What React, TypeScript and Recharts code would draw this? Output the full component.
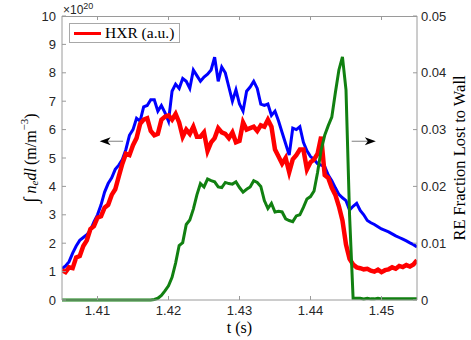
import { LineChart, Line, XAxis, YAxis, Legend, ReferenceLine, Label } from "recharts";

// time base (s)
const times = [
  1.405, 1.4055, 1.406, 1.4065, 1.407, 1.4075, 1.408, 1.4085, 1.409, 1.4095,
  1.41, 1.4105, 1.411, 1.4115, 1.412, 1.4125, 1.413, 1.4135, 1.414, 1.4145,
  1.415, 1.4155, 1.416, 1.4165, 1.417, 1.4175, 1.418, 1.4185, 1.419, 1.4195,
  1.42, 1.4205, 1.421, 1.4215, 1.422, 1.4225, 1.423, 1.4235, 1.424, 1.4245,
  1.425, 1.4255, 1.426, 1.4265, 1.427, 1.4275, 1.428, 1.4285, 1.429, 1.4295,
  1.43, 1.4305, 1.431, 1.4315, 1.432, 1.4325, 1.433, 1.4335, 1.434, 1.4345,
  1.435, 1.4355, 1.436, 1.4365, 1.437, 1.4375, 1.438, 1.4385, 1.439, 1.4395,
  1.44, 1.4405, 1.441, 1.4415, 1.442, 1.4425, 1.443, 1.4435, 1.444, 1.4445,
  1.445, 1.4455, 1.446, 1.4465, 1.447, 1.4475, 1.448, 1.4485, 1.449, 1.4495,
  1.45, 1.4505, 1.451, 1.4515, 1.452, 1.4525, 1.453, 1.4535, 1.454, 1.4545,
  1.455,
];

// line-integrated density, x1e20
const density = [
  1.1, 1.2, 1.35, 1.65, 1.9, 2.1, 2.2, 2.3, 2.45, 2.75,
  3.0, 3.35, 3.8, 4.1, 4.3, 4.6, 4.75, 4.95, 5.3, 5.8,
  6.0, 6.4, 6.3, 6.8, 6.85, 7.05, 7.05, 6.65, 6.85, 6.6,
  6.3, 7.35, 7.6, 7.45, 7.8, 7.7, 7.45, 8.1, 7.9, 7.7,
  7.85, 7.95, 8.1, 8.55, 7.7, 8.2, 8.0, 7.5, 7.0, 7.4,
  6.9, 6.65, 7.35, 7.5, 7.7, 7.45, 6.9, 6.85, 6.9, 6.5,
  6.65, 6.3, 5.9, 5.5, 5.1, 6.05, 6.0, 6.1, 5.55, 5.25,
  5.05, 4.95, 4.8, 4.75, 4.7, 4.4, 4.2, 3.95, 3.72, 3.6,
  3.5, 3.17, 3.3, 3.4, 3.15, 3.0, 2.8, 2.72, 2.66, 2.58,
  2.5, 2.45, 2.4, 2.33, 2.26, 2.2, 2.14, 2.08, 2.01, 1.95,
  1.87,
];

// hard x-ray signal (a.u.), on the density scale
const hxr = [
  1.05, 0.98, 1.15, 1.12, 1.5, 1.55, 1.9, 2.1, 2.5, 2.6,
  2.9, 2.95, 3.25, 3.35, 3.7, 3.9, 4.35, 4.8, 5.15, 5.1,
  5.45, 5.7, 6.2, 6.35, 6.4, 5.95, 5.8, 5.85, 6.35, 6.45,
  6.5, 6.35, 6.55, 6.25, 5.75, 6.0, 5.85, 6.1, 5.75, 5.75,
  5.9, 5.25, 5.55, 5.7, 6.05, 5.9, 5.85, 5.7, 5.9, 5.55,
  5.6, 6.25, 6.0, 6.05, 6.1, 5.95, 6.15, 6.1, 6.35, 6.1,
  5.3, 5.05, 4.8, 5.0, 4.5, 4.95, 5.1, 5.3, 5.3, 4.6,
  4.85, 4.95, 5.15, 5.75, 4.4, 4.3, 3.95, 3.7, 3.3, 2.8,
  1.95, 1.45, 1.25, 1.15, 1.12, 1.08, 1.1, 1.03, 1.0, 1.07,
  0.98, 1.05, 1.08, 1.15, 1.1, 1.2, 1.16, 1.23, 1.18, 1.25,
  1.4,
];

// RE fraction lost to wall (right axis)
const reFraction = [
  0, 0, 0, 0, 0, 0, 0, 0, 0, 0,
  0, 0, 0, 0, 0, 0, 0, 0, 0, 0,
  0, 0, 0, 0, 0, 0, 0.0001, 0.0003, 0.0008, 0.0016,
  0.0025, 0.004, 0.0065, 0.0096, 0.0101, 0.0133, 0.0141, 0.016, 0.0185, 0.0205,
  0.0199, 0.0213, 0.021, 0.0208, 0.0199, 0.0198, 0.0207, 0.0205, 0.0204, 0.0208,
  0.0198, 0.019, 0.0195, 0.0199, 0.021, 0.0207, 0.02, 0.0175, 0.0161, 0.017,
  0.0155, 0.0156, 0.0155, 0.0143, 0.014, 0.0138, 0.0148, 0.015, 0.0163, 0.0178,
  0.0182, 0.0192, 0.0225, 0.0264, 0.029, 0.0307, 0.0322, 0.0365, 0.0405, 0.0428,
  0.037, 0.015, 0.0003, 0.0003, 0.0003, 0.0002, 0.0003, 0.0002, 0.0002, 0.0003,
  0.0002, 0.0002, 0.0002, 0.0002, 0.0002, 0.0002, 0.0002, 0.0002, 0.0002, 0.0002,
  0.0002,
];

const timeDomain = [1.405, 1.455];
const timeTicks = [1.41, 1.42, 1.43, 1.44, 1.45];
const densityTicks = [0, 1, 2, 3, 4, 5, 6, 7, 8, 9, 10];
const fractionTicks = [0, 0.01, 0.02, 0.03, 0.04, 0.05];

const data = times.map((t, i) => ({
  t,
  density: density[i],
  hxr: hxr[i],
  re: reFraction[i],
}));

const W = 471;
const H = 340;
const TOP = 16;
const LEFT_W = 62;
const RIGHT_W = 54;
const AXIS = "#9a9a9a";
const TEXT = "#262626";
const SANS = "'Liberation Sans', Arial, sans-serif";
const SERIF = "'Liberation Serif', 'DejaVu Serif', serif";
const tickStyle = { fontSize: 13, fill: TEXT, fontFamily: SANS };

const Arrow = (props: any) => {
  const { x1, y1, x2, y2 } = props;
  const d = x2 > x1 ? 1 : -1;
  return (
    <g>
      <line x1={x1} y1={y1} x2={x2 - d * 6} y2={y2} stroke="#808080" strokeWidth={1} />
      <path
        d={`M${x2},${y2} L${x2 - d * 11},${y2 - 4} L${x2 - d * 8},${y2} L${x2 - d * 11},${y2 + 4} Z`}
        fill="#000"
      />
    </g>
  );
};

const DensityLabel = (props: any) => {
  const { x, y, width, height } = props.viewBox;
  const cx = x + 30;
  const cy = y + height / 2;
  return (
    <g>
      <text
        x={cx}
        y={cy}
        transform={`rotate(-90 ${cx} ${cy})`}
        textAnchor="middle"
        dominantBaseline="central"
        fontFamily={SERIF}
        fontSize={16}
        fill="#000"
      >
        <tspan fontSize={19}>∫</tspan>
        <tspan dx={4} fontStyle="italic">n</tspan>
        <tspan dy={4} fontSize={11} fontStyle="italic">e</tspan>
        <tspan dy={-4} fontStyle="italic">dl</tspan>
        <tspan dx={3}>(m/m</tspan>
        <tspan dy={-6} fontSize={11}>−3</tspan>
        <tspan dy={6}>)</tspan>
      </text>
      <text x={x + width + 1} y={y - 2} fontFamily={SANS} fontSize={12} fill={TEXT}>
        ×10
        <tspan dy={-5} fontSize={9}>20</tspan>
      </text>
    </g>
  );
};

const FractionLabel = (props: any) => {
  const { x, y, height } = props.viewBox;
  const cx = x + 42;
  const cy = y + height / 2;
  return (
    <text
      x={cx}
      y={cy}
      transform={`rotate(-90 ${cx} ${cy})`}
      textAnchor="middle"
      dominantBaseline="central"
      fontFamily={SERIF}
      fontSize={16.5}
      fill="#000"
    >
      RE Fraction Lost to Wall
    </text>
  );
};

const TimeLabel = (props: any) => {
  const { x, y, width } = props.viewBox;
  return (
    <text x={x + width / 2} y={y + 33} textAnchor="middle" fontFamily={SERIF} fontSize={16} fill="#000">
      t (s)
    </text>
  );
};

const LegendBox = () => (
  <div
    style={{
      border: "1px solid #a8a8a8",
      background: "#fff",
      width: 111,
      height: 20,
      boxSizing: "border-box",
      display: "flex",
      alignItems: "center",
    }}
  >
    <div style={{ width: 27, height: 3, background: "#ff0000", marginLeft: 4, marginRight: 4 }} />
    <span style={{ fontFamily: SERIF, fontSize: 15.5, color: "#000", whiteSpace: "nowrap" }}>HXR (a.u.)</span>
  </div>
);

// top edge of the axes box, with inward ticks at the time ticks
const TopEdge = () => {
  const left = LEFT_W;
  const right = W - RIGHT_W;
  const span = right - left;
  return (
    <svg
      width={W}
      height={TOP + 6}
      style={{ position: "absolute", left: 0, top: 0, zIndex: 2, pointerEvents: "none" }}
    >
      <line x1={left} y1={TOP + 0.5} x2={right} y2={TOP + 0.5} stroke={AXIS} strokeWidth={1} />
      {timeTicks.map((t) => {
        const tx = Math.round(left + ((t - timeDomain[0]) / (timeDomain[1] - timeDomain[0])) * span) + 0.5;
        return <line key={t} x1={tx} y1={TOP} x2={tx} y2={TOP + 4} stroke={AXIS} strokeWidth={1} />;
      })}
    </svg>
  );
};

export default function App() {
  return (
    <div style={{ position: "absolute", left: 0, top: 0, width: W, height: H, background: "#fff" }}>
      <LineChart width={W} height={H} data={data} margin={{ top: TOP, right: 0, bottom: 0, left: 0 }}>
        <XAxis
          dataKey="t"
          type="number"
          domain={timeDomain}
          ticks={timeTicks}
          interval={0}
          allowDataOverflow
          height={40}
          stroke={AXIS}
          tick={tickStyle}
          tickSize={-4}
          tickMargin={10}
        >
          <Label content={TimeLabel} />
        </XAxis>
        <YAxis
          yAxisId="left"
          domain={[0, 10]}
          ticks={densityTicks}
          interval={0}
          width={LEFT_W}
          stroke={AXIS}
          tick={tickStyle}
          tickSize={-4}
          tickMargin={10}
        >
          <Label content={DensityLabel} />
        </YAxis>
        <YAxis
          yAxisId="right"
          orientation="right"
          domain={[0, 0.05]}
          ticks={fractionTicks}
          interval={0}
          width={RIGHT_W}
          stroke={AXIS}
          tick={{ ...tickStyle, textAnchor: "start" }}
          tickSize={-4}
          tickMargin={8}
        >
          <Label content={FractionLabel} />
        </YAxis>
        <Legend
          layout="horizontal"
          verticalAlign="middle"
          align="center"
          content={LegendBox}
          wrapperStyle={{ left: 69, top: 23, width: 111, height: 20 }}
        />
        <Line
          yAxisId="left"
          dataKey="density"
          stroke="#0000ff"
          strokeWidth={3}
          dot={false}
          type="linear"
          isAnimationActive={false}
          legendType="none"
        />
        <Line
          yAxisId="left"
          dataKey="hxr"
          stroke="#ff0000"
          strokeWidth={4.5}
          dot={false}
          type="linear"
          isAnimationActive={false}
        />
        <Line
          yAxisId="right"
          dataKey="re"
          stroke="#118011"
          strokeWidth={3}
          dot={false}
          type="linear"
          isAnimationActive={false}
          legendType="none"
        />
        <ReferenceLine
          yAxisId="left"
          segment={[{ x: 1.4136, y: 5.59 }, { x: 1.4103, y: 5.59 }]}
          shape={Arrow}
        />
        <ReferenceLine
          yAxisId="left"
          segment={[{ x: 1.4458, y: 5.59 }, { x: 1.4492, y: 5.59 }]}
          shape={Arrow}
        />
      </LineChart>
      <TopEdge />
    </div>
  );
}
